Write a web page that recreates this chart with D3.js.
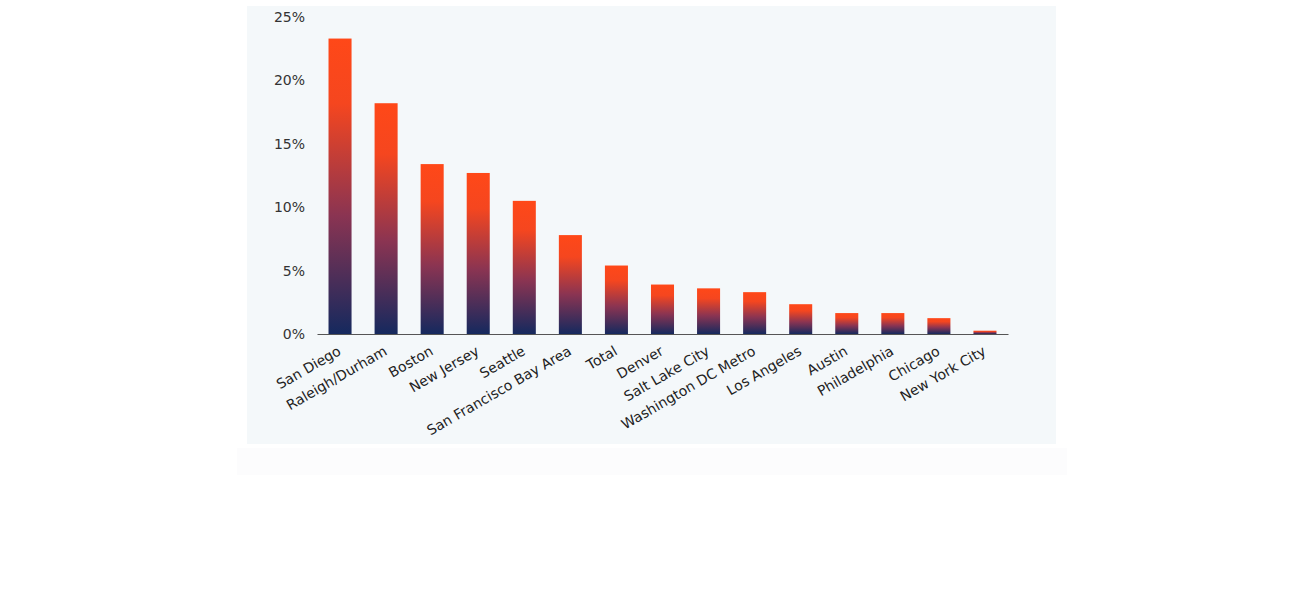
<!DOCTYPE html>
<html>
<head>
<meta charset="utf-8">
<script src="https://cdn.jsdelivr.net/npm/d3@7"></script>
<style>
  body { margin: 0; background: #fff; }
  text { font-family: "DejaVu Sans", "Open Sans", sans-serif; }
</style>
</head>
<body>
<div id="chart"></div>
<script>
// data
var cities = ["San Diego", "Raleigh/Durham", "Boston", "New Jersey", "Seattle",
  "San Francisco Bay Area", "Total", "Denver", "Salt Lake City", "Washington DC Metro",
  "Los Angeles", "Austin", "Philadelphia", "Chicago", "New York City"];
var shares = [23.3, 18.2, 13.4, 12.7, 10.5, 7.8, 5.4, 3.9, 3.6, 3.3, 2.35, 1.65, 1.65, 1.25, 0.26];
var yTicks = [0, 5, 10, 15, 20, 25];

var W = 1300, H = 600;
var margin = {top: 17, left: 317, right: 292, bottom: 266},
    width = W - margin.left - margin.right,
    height = H - margin.top - margin.bottom;

var svg = d3.select("#chart").append("svg")
    .attr("width", W)
    .attr("height", H);

// background panel
svg.append("rect")
    .attr("x", 237).attr("y", 448).attr("width", 830).attr("height", 27)
    .attr("fill", "#fcfcfd");
svg.append("rect")
    .attr("x", 247).attr("y", 6).attr("width", 809).attr("height", 438)
    .attr("fill", "#f4f8fa");

var defs = svg.append("defs");
var grad = defs.append("linearGradient")
    .attr("id", "barGrad")
    .attr("x1", 0).attr("y1", 0).attr("x2", 0).attr("y2", 1);
grad.append("stop").attr("offset", "0%").attr("stop-color", "#ff4818");
grad.append("stop").attr("offset", "22%").attr("stop-color", "#f5461f");
grad.append("stop").attr("offset", "60%").attr("stop-color", "#8a3452");
grad.append("stop").attr("offset", "100%").attr("stop-color", "#15295e");

var g = svg.append("g")
    .attr("transform", "translate(" + margin.left + "," + margin.top + ")");

var x = d3.scaleBand().domain(cities).range([0, width])
    .paddingInner(0.5).paddingOuter(0.25);
var y = d3.scaleLinear().domain([0, 25]).range([height, 0]);

// bars
g.selectAll("rect.bar")
    .data(cities)
  .enter().append("rect")
    .attr("class", "bar")
    .attr("x", function(d) { return x(d); })
    .attr("y", function(d, i) { return y(shares[i]); })
    .attr("width", x.bandwidth())
    .attr("height", function(d, i) { return height - y(shares[i]); })
    .attr("fill", "url(#barGrad)");

// x axis
var xAxis = g.append("g")
    .attr("transform", "translate(0," + height + ")")
    .call(d3.axisBottom(x).tickSize(0).tickSizeOuter(0));
xAxis.select(".domain").attr("stroke", "#555").attr("stroke-width", 1);
xAxis.selectAll("text")
    .attr("fill", "#222")
    .style("font-size", "14px")
    .attr("text-anchor", "end")
    .attr("dy", "0.35em")
    .attr("transform", "translate(-2,13) rotate(-30)");

// y axis
var yAxis = g.append("g")
    .call(d3.axisLeft(y).tickValues(yTicks).tickSize(0)
      .tickFormat(function(d) { return d + "%"; }));
yAxis.select(".domain").remove();
yAxis.selectAll("text")
    .attr("fill", "#333")
    .attr("x", -12)
    .style("font-size", "14px");
</script>
</body>
</html>
